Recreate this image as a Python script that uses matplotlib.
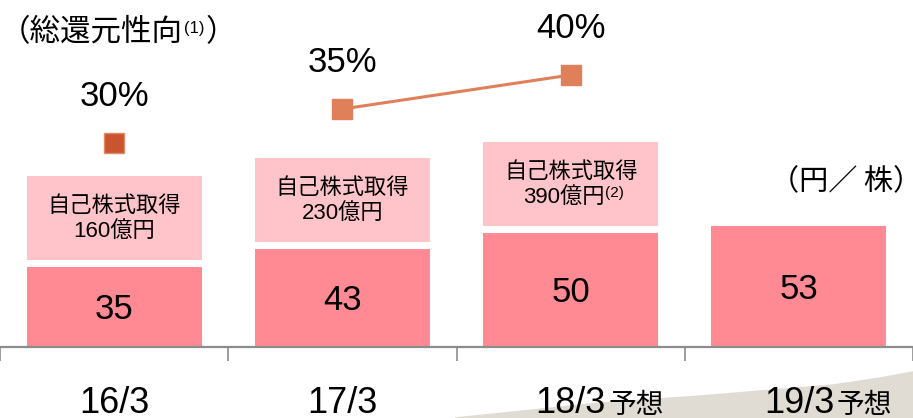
import numpy as np
import matplotlib.pyplot as plt
from matplotlib.patches import Polygon
from matplotlib.transforms import blended_transform_factory

# data
years = ['16/3', '17/3', '18/3', '19/3']
suffix = ['', '', '予想', '予想']
dividend = [35, 43, 50, 53]          # 円/株
buyback = [160, 230, 390]            # 億円
payout = [30, 35, 40]                # 総還元性向 %

JP = ['Noto Sans CJK JP', 'DejaVu Sans']
NUM = ['Liberation Sans', 'Noto Sans CJK JP', 'DejaVu Sans']

BAR = '#FF8A93'
BOX = '#FFC4C9'
LINE = '#E0805A'
DARK = '#C8552D'
GREY = '#8C8C8C'

W, H = 913, 418
fig = plt.figure(figsize=(W / 100, H / 100), dpi=100)
renderer = fig.canvas.get_renderer()

# decorative grey swoosh bottom right
pts = [(455, 418), (600, 403), (700, 396), (833, 385), (880, 378), (913, 372), (913, 418)]
fig.patches.append(Polygon([(px / W, 1 - py / H) for px, py in pts], closed=True,
                           transform=fig.transFigure, color='#E0DCD4', zorder=-5))

axis_y = 347
ax = fig.add_axes([0, (H - axis_y) / H, 1, axis_y / H])
ax.patch.set_visible(False)
px_unit = 2.29
ax.set_xlim(-0.5, 3.5)
ax.set_ylim(0, axis_y / px_unit)

x = np.arange(len(years))
bw = 0.767
ax.bar(x, dividend, width=bw, color=BAR, zorder=2)
for i, v in enumerate(dividend):
    ax.text(i, v / 2 - 1.3, str(v), ha='center', va='center', fontsize=25, family=NUM, zorder=3)

# buyback boxes (fixed height, sit just above the dividend bar)
gap = 7 / px_unit
bh = 84 / px_unit
for i, b in enumerate(buyback):
    bottom = dividend[i] + gap
    ax.bar(i, bh, bottom=bottom, width=bw, color=BOX, zorder=2)
    yc = bottom + bh / 2
    ax.text(i, yc + 12 / px_unit, '自己株式取得', ha='center', va='center', fontsize=16, family=JP, zorder=3)
    if i == 2:
        t = ax.text(i - 0.03, yc - 14 / px_unit, f'{b}億円', ha='center', va='center',
                    fontsize=16, family=NUM, zorder=3)
        bb = t.get_window_extent(renderer)
        fig.text(bb.x1 / W + 0.001, (bb.y1 - 6) / H, '(2)', ha='left', va='center', fontsize=11, family=NUM)
    else:
        ax.text(i, yc - 14 / px_unit, f'{b}億円', ha='center', va='center', fontsize=16, family=NUM, zorder=3)

for s in ['top', 'left', 'right']:
    ax.spines[s].set_visible(False)
ax.spines['bottom'].set_color(GREY)
ax.spines['bottom'].set_linewidth(1.6)
ax.set_yticks([])
ax.set_xticks(np.arange(-0.5, 4, 1))
ax.set_xticklabels([])
ax.tick_params(axis='x', length=10, width=1.2, color=GREY, direction='out')

# category labels
tr = blended_transform_factory(ax.transData, fig.transFigure)
for i, (yr, sf) in enumerate(zip(years, suffix)):
    t = ax.text(i, 5 / H, yr, transform=tr, ha='center', va='baseline', fontsize=26, family=NUM)
    if sf:
        bb = t.get_window_extent(renderer)
        fig.text((bb.x1 + 3) / W, 5 / H, sf, ha='left', va='baseline', fontsize=20, family=JP)

# total payout ratio on its own scale
ax2 = ax.twinx()
ax2.patch.set_visible(False)
ax2.set_ylim(0, axis_y / 6.8)
ax2.axis('off')
ax2.plot(x[1:3], payout[1:3], color=LINE, lw=2.2, marker='s', ms=14.5, mec=LINE)
ax2.plot(x[:1], payout[:1], ls='none', marker='s', ms=14, color=DARK, mec='#E08A66', mew=1)
for i, p in enumerate(payout):
    ax2.annotate(f'{p}%', (i, p), xytext=(0, 27), textcoords='offset points',
                 ha='center', va='baseline', fontsize=25, family=NUM)

# titles
t = fig.text(0 / W, 1 - 33 / H, '（総還元性向', ha='left', va='center', fontsize=22, family=JP)
bb = t.get_window_extent(renderer)
t = fig.text((bb.x1 + 1) / W, 1 - 29 / H, '(1)', ha='left', va='center', fontsize=12, family=NUM)
bb = t.get_window_extent(renderer)
fig.text((bb.x1 + 1) / W, 1 - 33 / H, '）', ha='left', va='center', fontsize=22, family=JP)

fig.text(846 / W, 1 - 182 / H, '（円／ 株）', ha='center', va='center', fontsize=21, family=JP)

fig.savefig('out.png', dpi=100)
